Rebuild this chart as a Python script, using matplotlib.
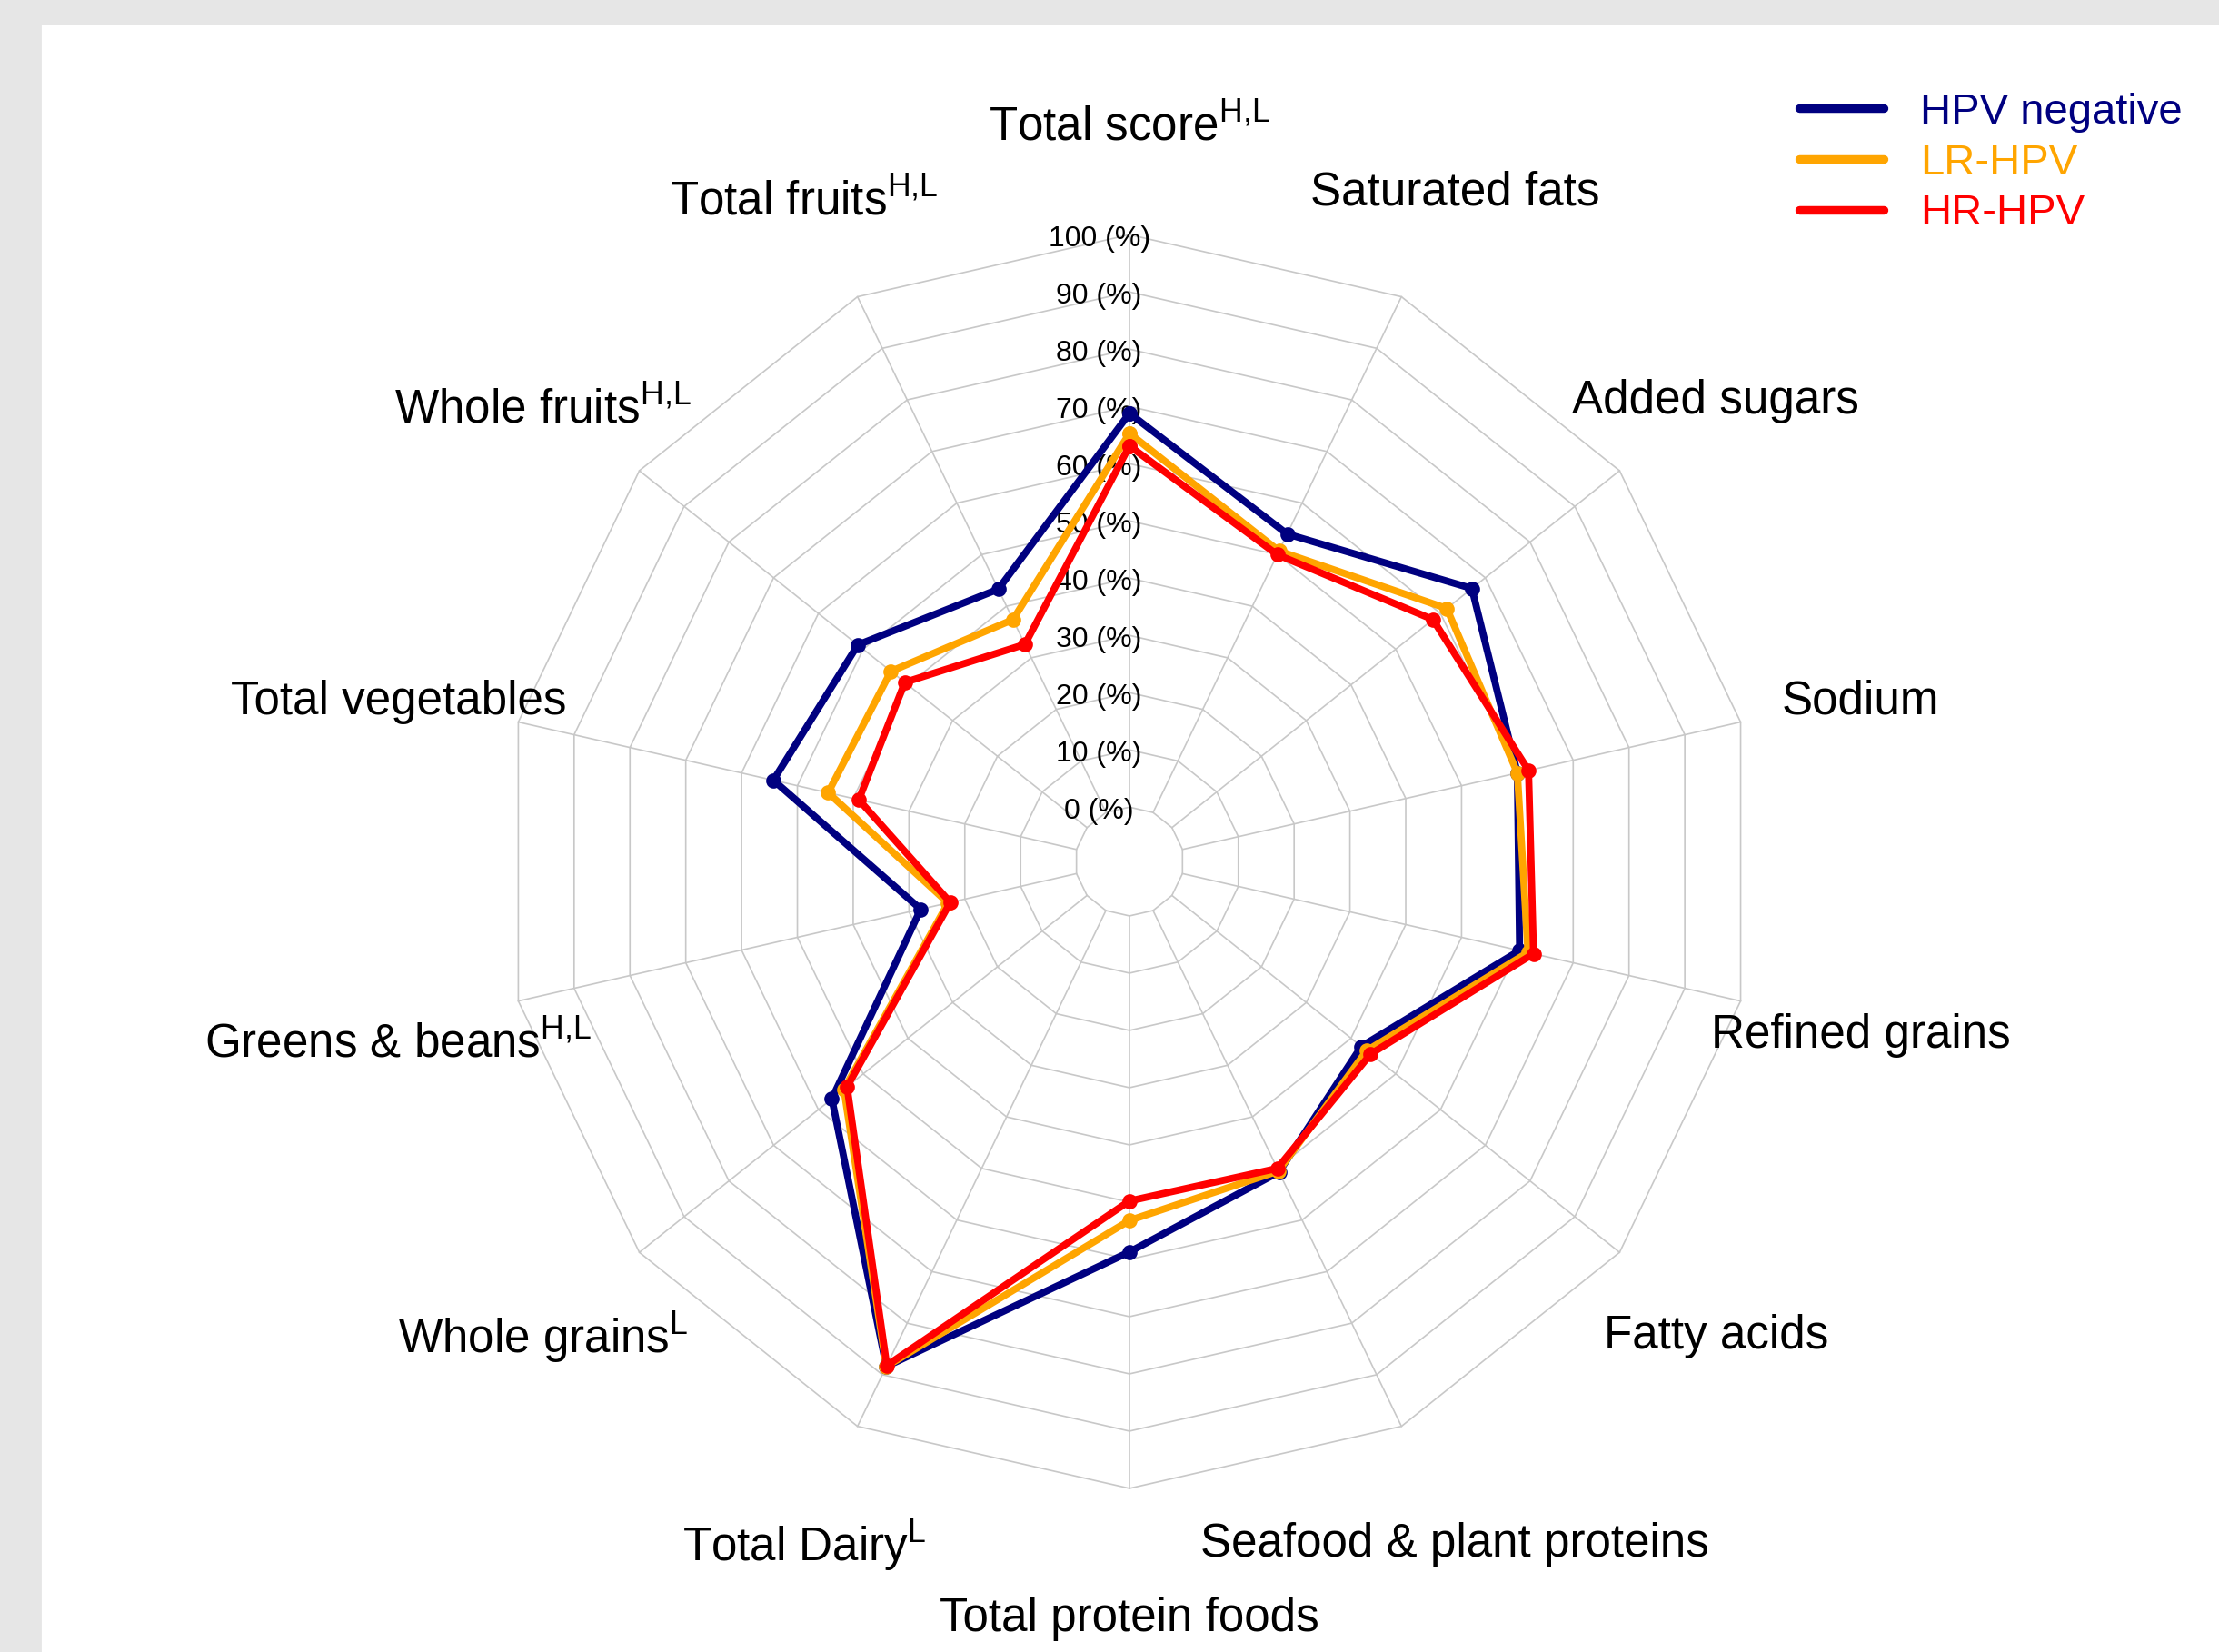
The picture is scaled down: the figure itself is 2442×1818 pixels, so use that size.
import numpy as np
import matplotlib.pyplot as plt
from matplotlib.lines import Line2D
from matplotlib.patches import Rectangle

plt.rcParams['font.family'] = ['Liberation Sans', 'DejaVu Sans']
plt.rcParams['mathtext.fontset'] = 'custom'
plt.rcParams['mathtext.rm'] = 'Liberation Sans'

# categories clockwise from the top
categories = ["Total score", "Saturated fats", "Added sugars", "Sodium",
              "Refined grains", "Fatty acids", "Seafood & plant proteins",
              "Total protein foods", "Total Dairy", "Whole grains",
              "Greens & beans", "Total vegetables", "Whole fruits", "Total fruits"]
superscripts = ["H,L", "", "", "", "", "", "", "", "L", "L", "H,L", "", "H,L", "H,L"]

hpv_negative = [68.8, 54.0, 67.0, 60.0, 60.4, 42.3, 50.7, 58.7, 88.4, 57.0, 27.9, 54.3, 51.2, 43.3]
lr_hpv       = [65.3, 50.7, 61.4, 60.0, 61.9, 43.5, 50.5, 53.2, 88.4, 54.3, 23.0, 44.5, 43.8, 37.4]
hr_hpv       = [63.1, 50.0, 58.3, 62.0, 62.9, 44.4, 50.0, 49.8, 88.2, 53.6, 22.6, 39.0, 40.7, 32.6]

series = [("HPV negative", hpv_negative, "#000080"),
          ("LR-HPV", lr_hpv, "#FFA500"),
          ("HR-HPV", hr_hpv, "#FF0000")]

levels = list(range(0, 101, 10))

n = len(categories)
theta = np.arange(n) * 2 * np.pi / n
theta_closed = np.append(theta, theta[0])

fig = plt.figure(figsize=(12.21, 9.09), dpi=200)
# grey frame on the left and top
fig.patches.append(Rectangle((0, 0), 44 / 2442, 1, transform=fig.transFigure,
                             color="#e6e6e6", zorder=0))
fig.patches.append(Rectangle((0, 1 - 26 / 1818), 1, 26 / 1818, transform=fig.transFigure,
                             color="#e6e6e6", zorder=0))

ax = fig.add_axes([0.2265, 0.099, 0.565, 0.759], projection="polar")
ax.set_theta_zero_location("N")
ax.set_theta_direction(-1)
ax.set_ylim(0, 100)
ax.set_rorigin(-9.5)
ax.grid(False)
# polar draw() toggles visibility of the inner spine, so blank its colour instead
for sp in ax.spines.values():
    sp.set_edgecolor("none")
    sp.set_linewidth(0)
ax.set_xticks([])
ax.set_yticks([])
ax.patch.set_visible(False)

# polygon web (straight edges would be clipped by the round inner hole)
grid_col = "#c8c8c8"
for lv in levels:
    ax.plot(theta_closed, [lv] * (n + 1), color=grid_col, lw=0.6, zorder=1, clip_on=False)
for t in theta:
    ax.plot([t, t], [0, 100], color=grid_col, lw=0.6, zorder=1, clip_on=False)

for lv in levels:
    ax.annotate(f"{lv} (%)", xy=(0, lv), xytext=(-12, -1.8), textcoords="offset points",
                ha="center", va="center", fontsize=11.5, color="black", zorder=2)

for name, vals, col in series:
    ax.plot(theta_closed, vals + vals[:1], color=col, lw=2.8, marker="o", ms=5,
            solid_joinstyle="round", zorder=3, clip_on=False)

for t, cat, sup in zip(theta, categories, superscripts):
    if sup:
        label = cat + r"$^{\mathrm{" + sup.replace(",", "{,}") + "}}$"
        dy = -6.4 if "," in sup else -3.4
    else:
        label = cat
        dy = -2.8
    ax.annotate(label, xy=(t, 121.5), xytext=(0, dy), textcoords="offset points",
                ha="center", va="center", fontsize=18.4, annotation_clip=False)

handles = [Line2D([0], [0], color=col, lw=3.4, solid_capstyle="round") for _, _, col in series]
leg = fig.legend(handles, [s[0] for s in series], loc="upper left",
                 bbox_to_anchor=(0.811, 0.944), frameon=False, fontsize=17,
                 handlelength=1.95, handletextpad=0.85, labelspacing=0.25,
                 borderpad=0, borderaxespad=0)
for txt, (_, _, col) in zip(leg.get_texts(), series):
    txt.set_color(col)

fig.savefig("out.png", dpi=200, facecolor="white")
